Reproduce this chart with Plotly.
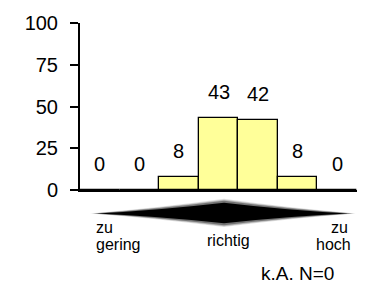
import plotly.graph_objects as go

categories = ["c1", "c2", "c3", "c4", "c5", "c6", "c7"]
values = [0, 0, 8, 43, 42, 8, 0]
value_labels = ["0", "0", "8", "43", "42", "8", "0"]
y_ticks = [0, 25, 50, 75, 100]
scale_left = ["zu", "gering"]
scale_mid = "richtig"
scale_right = ["zu", "hoch"]
footer = "k.A. N=0"

FONT = "Liberation Sans, Arial, sans-serif"
W, H = 374, 290
L, R, T, B = 80, 17, 19, 100
PW, PH = W - L - R, H - T - B

def px(x):
    return (x - L) / PW

def py(y):
    return (H - B - y) / PH

fig = go.Figure()
fig.add_trace(go.Bar(
    x=categories, y=values,
    marker=dict(color="#FFFF99", line=dict(color="black", width=1.3)),
    hoverinfo="skip",
))

annotations = []
for c, v, t in zip(categories, values, value_labels):
    annotations.append(dict(x=c, y=v, xref="x", yref="y", text=t, showarrow=False,
                            yanchor="middle", yshift=26,
                            font=dict(family=FONT, size=20, color="black")))

def txt(x, y, t, anchor, size):
    annotations.append(dict(x=px(x), y=py(y), xref="paper", yref="paper", text=t,
                            showarrow=False, xanchor=anchor, yanchor="middle",
                            font=dict(family=FONT, size=size, color="black")))

txt(94, 228, scale_left[0], "left", 16)
txt(94, 246, scale_left[1], "left", 16)
txt(228, 242, scale_mid, "center", 16)
txt(350, 228, scale_right[0], "right", 16)
txt(353, 246, scale_right[1], "right", 16)
txt(297, 276, footer, "center", 19)

def diamond(l, r, top, bot, mid, cx, concave):
    def P(x, y):
        return f"{px(x):.4f},{py(y):.4f}"
    qx1, qx2 = (l + cx) / 2, (cx + r) / 2
    return (f"M {P(l, mid)} Q {P(qx1, (mid + top) / 2 + concave)} {P(cx, top)} "
            f"Q {P(qx2, (mid + top) / 2 + concave)} {P(r, mid)} "
            f"Q {P(qx2, (mid + bot) / 2 - concave)} {P(cx, bot)} "
            f"Q {P(qx1, (mid + bot) / 2 - concave)} {P(l, mid)} Z")

shapes = []
for grow, op in [(3, 0.12), (2, 0.2), (1, 0.35)]:
    shapes.append(dict(type="path", xref="paper", yref="paper",
                       path=diamond(96 - grow * 2, 350 + grow * 2, 202 - grow, 225 + grow, 214, 224, 2),
                       fillcolor="black", opacity=op, line=dict(width=0), layer="above"))
shapes.append(dict(type="path", xref="paper", yref="paper",
                   path=diamond(97, 348, 203, 224, 214, 224, 2),
                   fillcolor="black", line=dict(width=0), layer="above"))

fig.update_layout(
    width=W, height=H,
    margin=dict(l=L, r=R, t=T, b=B, pad=0),
    paper_bgcolor="white", plot_bgcolor="white",
    bargap=0, showlegend=False,
    annotations=annotations, shapes=shapes,
    xaxis=dict(type="category", range=[-0.5, 6.5], showticklabels=False, ticks="",
               showgrid=False, showline=True, linecolor="black", linewidth=2,
               zeroline=False, fixedrange=True),
    yaxis=dict(range=[0, 100], tickvals=y_ticks, ticktext=[str(v) for v in y_ticks],
               ticks="outside", ticklen=8, tickwidth=2, tickcolor="black",
               showline=True, linecolor="black", linewidth=2, showgrid=False,
               zeroline=False, ticklabelstandoff=8,
               tickfont=dict(family=FONT, size=20, color="black"), fixedrange=True),
)

fig.write_html("out.html", config={"displayModeBar": False},
               post_script="document.body.style.margin='0';document.body.style.overflow='hidden';")
